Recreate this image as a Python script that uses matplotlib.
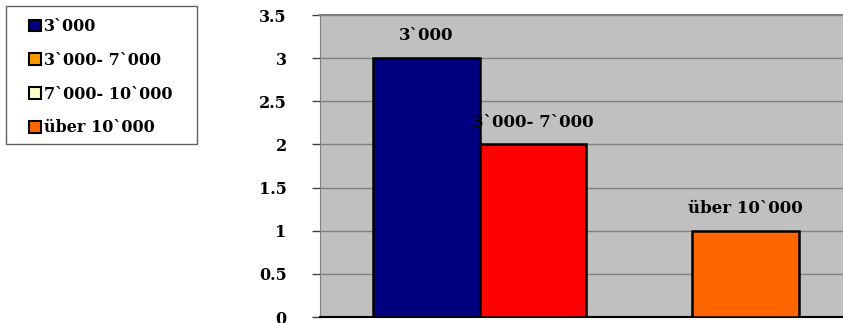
import matplotlib
matplotlib.use("Agg")
import matplotlib.pyplot as plt
import matplotlib.patches as mpatches
from matplotlib.ticker import FormatStrFormatter

# ------------------------------------------------------------------ daten
series = ["3`000", "3`000- 7`000", "7`000- 10`000", "über 10`000"]
values = [3, 2, 0, 1]
bar_colors = ["#000080", "#FF0000", "#FFFFCC", "#FF6600"]
legend_colors = ["#000080", "#FF9900", "#FFFFCC", "#FF6600"]
yticks = [0, 0.5, 1, 1.5, 2, 2.5, 3, 3.5]

plt.rcParams["font.family"] = ["DejaVu Serif"]
plt.rcParams["font.weight"] = "bold"

W, H = 843, 323
fig = plt.figure(figsize=(W / 100, H / 100), dpi=100)
# plotbereich laeuft rechts ueber den rand hinaus
ax = fig.add_axes([320 / W, 6 / H, 532 / W, 302 / H])
ax.set_facecolor("#C0C0C0")

width = 0.2
for i, (name, v, c) in enumerate(zip(series, values, bar_colors)):
    x = -0.3 + i * width
    ax.bar(x, v, width=width, color=c, edgecolor="black", linewidth=1.8,
           zorder=3)
    if v > 0:
        ax.annotate(name, (x, v), xytext=(0, 10), textcoords="offset points",
                    ha="center", va="bottom", fontsize=12,
                    fontweight="bold")

ax.set_xlim(-0.5, 0.5)
ax.set_ylim(0, 3.5)
ax.set_yticks(yticks)
ax.yaxis.set_major_formatter(FormatStrFormatter("%g"))
ax.yaxis.grid(True, color="#808080", linewidth=1.0, zorder=0)
ax.set_axisbelow(True)
ax.set_xticks([])
ax.tick_params(axis="y", direction="out", length=6, width=1,
               color="#404040", labelsize=11.5, pad=18)
for lab in ax.get_yticklabels():
    lab.set_fontweight("bold")

ax.spines["left"].set_color("#808080")
ax.spines["top"].set_color("#808080")
ax.spines["top"].set_linewidth(1.5)
ax.spines["right"].set_visible(False)
ax.spines["bottom"].set_color("black")
ax.spines["bottom"].set_linewidth(1.5)

# legendenrahmen von hand, damit die innenabstaende passen
fig.patches.append(mpatches.Rectangle((6 / W, 1 - 144 / H), 191 / W, 138 / H,
                                      transform=fig.transFigure,
                                      facecolor="white", edgecolor="#606060",
                                      linewidth=1.0, zorder=0))
handles = [mpatches.Patch(facecolor=c, edgecolor="black", linewidth=1.5,
                          label=n) for n, c in zip(series, legend_colors)]
leg = fig.legend(handles=handles, loc="upper left",
                 bbox_to_anchor=(29 / W, 1 - 18 / H),
                 frameon=False,
                 prop={"weight": "bold", "size": 11.5},
                 handlelength=0.75, handleheight=0.75, handletextpad=0.2,
                 labelspacing=1.05, borderpad=0, borderaxespad=0)
for t in leg.get_texts():
    t.set_fontweight("bold")

fig.savefig("out.png", dpi=100)
